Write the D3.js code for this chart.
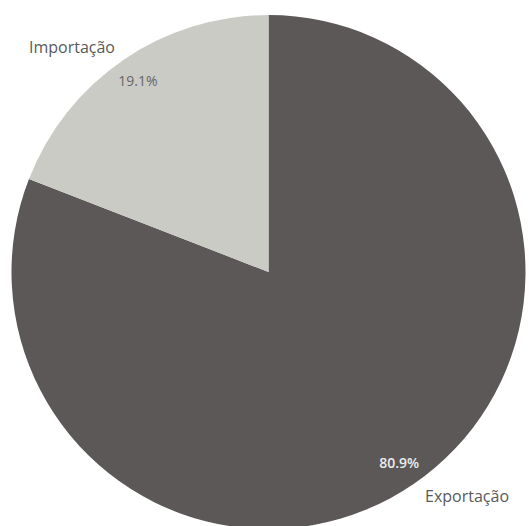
<!DOCTYPE html>
<html>
<head>
<meta charset="utf-8">
<script src="https://cdn.jsdelivr.net/npm/d3@7"></script>
<style>
  html, body { margin: 0; padding: 0; background: #ffffff; }
  svg { display: block; }
  text { font-family: "Open Sans", "Noto Sans", sans-serif; }
</style>
</head>
<body>
<svg id="chart" width="529" height="526"></svg>
<script>
// Share of trade flows
const categories = ["Exportação", "Importação"];
const shares = [80.9, 19.1];
const sliceColors = ["#5c5857", "#cbcbc6"];
const percentColors = ["#ececec", "#666666"];

const width = 529, height = 526;
const cx = 268.5, cy = 272, radius = 257;

const svg = d3.select("#chart");
const g = svg.append("g").attr("transform", `translate(${cx},${cy})`);

const data = categories.map((c, i) => ({ name: c, value: shares[i], i }));

const pie = d3.pie().sort(null).value(d => d.value);
const arcs = pie(data);

const arc = d3.arc().innerRadius(0).outerRadius(radius);
const pctArc = d3.arc().innerRadius(radius * 0.9).outerRadius(radius * 0.9);
const outArc = d3.arc().innerRadius(radius * 1.058).outerRadius(radius * 1.058);

g.selectAll("path.slice")
  .data(arcs)
  .join("path")
  .attr("class", "slice")
  .attr("d", arc)
  .attr("fill", d => sliceColors[d.data.i]);

// percentage labels inside each slice
g.selectAll("text.pct")
  .data(arcs)
  .join("text")
  .attr("class", "pct")
  .attr("x", d => pctArc.centroid(d)[0])
  .attr("y", d => pctArc.centroid(d)[1])
  .attr("dy", "0.35em")
  .attr("text-anchor", "middle")
  .attr("font-size", 14)
  .attr("font-weight", d => d.data.i === 0 ? 600 : 400)
  .attr("fill", d => percentColors[d.data.i])
  .text(d => d3.format(".1f")(d.data.value) + "%");

// category labels outside the pie
g.selectAll("text.cat")
  .data(arcs)
  .join("text")
  .attr("class", "cat")
  .each(function(d) {
    const [x, y] = outArc.centroid(d);
    const mid = (d.startAngle + d.endAngle) / 2;
    const right = mid < Math.PI;
    d3.select(this)
      .attr("x", x + (right ? 3 : 0))
      .attr("y", y)
      .attr("dy", "0.35em")
      .attr("text-anchor", right ? "start" : "end");
  })
  .attr("font-size", 16)
  .attr("fill", "#595959")
  .text(d => d.data.name);
</script>
</body>
</html>
